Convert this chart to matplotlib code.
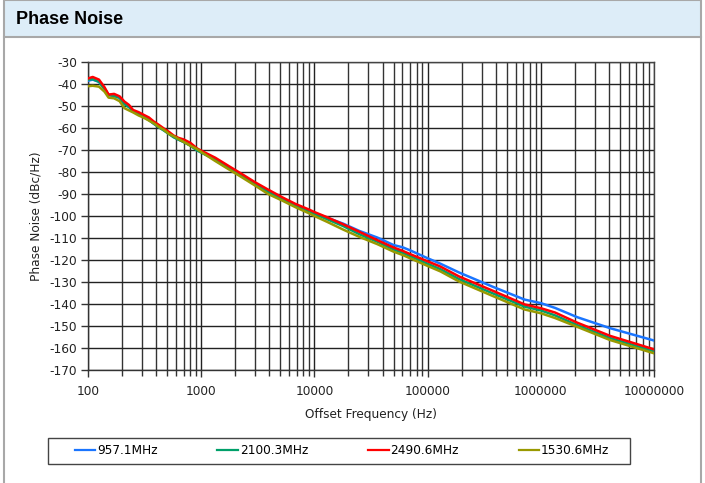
import matplotlib
matplotlib.use("Agg")
import matplotlib.pyplot as plt
from matplotlib.patches import Rectangle
from matplotlib.lines import Line2D
from matplotlib.ticker import LogLocator, FixedLocator, NullFormatter, FixedFormatter

# ---------------- data ----------------
freq_hz = [100, 110, 125, 140, 152, 170, 190, 210, 230, 250, 280, 310, 345, 380, 420,
           470, 520, 570, 630, 700, 800, 920, 1000, 1330, 1740, 2300, 3000, 3900,
           5200, 6800, 8900, 10000, 13000, 18000, 25000, 36000, 50000, 60000, 70000,
           100000, 130000, 190000, 370000, 720000, 1000000, 1340000, 2100000,
           4100000, 10000000]

pn_957_1 = [-38.5, -38.0, -39.0, -42.0, -45.0, -45.5, -46.3, -49.0, -50.3, -52.2, -53.6, -55.0,
            -56.3, -58.0, -59.5, -61.0, -62.6, -64.0, -65.2, -66.3, -67.8, -70.0, -71.0,
            -74.2, -78.0, -81.7, -85.3, -88.8, -92.2, -95.2, -97.8, -98.8, -100.8,
            -103.5, -106.8, -109.8, -113.2, -114.2, -115.6, -119.2, -121.7, -125.7,
            -132.0, -138.0, -139.6, -141.8, -146.0, -151.0, -156.6]

pn_2100_3 = [-38.0, -37.8, -39.0, -42.3, -45.0, -45.4, -46.2, -49.2, -50.5, -52.4, -53.8, -55.0,
             -56.4, -58.0, -59.6, -61.2, -62.8, -64.2, -65.3, -66.4, -68.0, -70.2, -71.2,
             -74.3, -78.0, -81.8, -85.5, -89.0, -92.3, -95.3, -97.9, -99.0, -101.5,
             -104.6, -108.3, -111.7, -115.2, -116.7, -118.2, -121.7, -124.2, -128.7,
             -135.0, -141.2, -142.9, -145.2, -149.6, -155.5, -161.5]

pn_2490_6 = [-37.5, -36.8, -38.0, -41.5, -44.8, -44.5, -45.6, -48.0, -49.5, -51.8, -52.8, -54.0,
             -55.2, -57.0, -58.5, -60.3, -61.8, -63.4, -64.5, -65.2, -66.7, -69.3, -70.3,
             -73.5, -77.2, -81.0, -84.7, -88.0, -91.5, -94.5, -97.0, -98.2, -100.6,
             -103.8, -107.2, -111.0, -114.3, -115.8, -117.3, -120.6, -123.0, -127.5,
             -133.8, -140.2, -141.9, -143.9, -148.5, -154.5, -160.6]

pn_1530_6 = [-41.0, -40.8, -41.2, -43.5, -46.2, -46.5, -47.8, -51.0, -52.0, -52.9, -54.3, -55.3,
             -56.6, -57.8, -59.4, -60.9, -62.7, -63.7, -65.0, -66.3, -68.0, -69.6, -70.9,
             -75.0, -78.7, -82.5, -86.2, -90.0, -93.0, -96.0, -98.7, -100.0, -102.7,
             -106.2, -109.5, -112.8, -116.2, -117.7, -119.2, -122.7, -125.2, -129.8,
             -136.2, -142.5, -144.2, -146.4, -150.4, -156.4, -162.4]

series_labels = ["957.1MHz", "2100.3MHz", "2490.6MHz", "1530.6MHz"]
series_colors = ["#1A75FF", "#00A06A", "#FF0000", "#999900"]

x_ticks = [100, 1000, 10000, 100000, 1000000, 10000000]
x_tick_labels = ["100", "1000", "10000", "100000", "1000000", "10000000"]
y_ticks = list(range(-170, -29, 10))

FS = 8.7
TXT = "#222222"

# ---------------- figure ----------------
W, H = 705, 483
fig = plt.figure(figsize=(W / 100, H / 100), dpi=100)
fig.patch.set_facecolor("white")

# title band
band_top = 1.0
band_bot = (H - 36.5) / H
fig.patches.append(Rectangle((4 / W, band_bot), (701 - 4) / W, band_top - band_bot,
                             transform=fig.transFigure, facecolor="#DDEDF8",
                             edgecolor="#A8A8A8", linewidth=1.5, zorder=0))
# outer side borders
fig.lines.append(Line2D([4 / W, 4 / W], [0, band_bot], transform=fig.transFigure,
                        color="#A8A8A8", linewidth=1.5))
fig.lines.append(Line2D([701 / W, 701 / W], [0, band_bot], transform=fig.transFigure,
                        color="#A8A8A8", linewidth=1.5))
fig.text(16 / W, (H - 19) / H, "Phase Noise", fontsize=13, fontweight="bold",
         family="Liberation Sans", va="center", ha="left", color="black")

ax = fig.add_axes([88 / W, (H - 370) / H, (654 - 88) / W, (370 - 62) / H])
series = [pn_957_1, pn_2100_3, pn_2490_6, pn_1530_6]
handles = []
for vals, lab, col in zip(series, series_labels, series_colors):
    h, = ax.plot(freq_hz, vals, color=col, linewidth=1.8, label=lab, zorder=3)
    handles.append(h)

ax.set_xscale("log")
ax.set_xlim(100, 10000000)
ax.set_ylim(-170, -30)
ax.xaxis.set_major_locator(FixedLocator(x_ticks))
ax.xaxis.set_major_formatter(FixedFormatter(x_tick_labels))
ax.xaxis.set_minor_locator(LogLocator(base=10, subs=range(2, 10), numticks=20))
ax.xaxis.set_minor_formatter(NullFormatter())
ax.set_yticks(y_ticks)
ax.set_yticklabels([str(v) for v in y_ticks])

ax.grid(True, which="major", axis="both", color="#222222", linewidth=1.0)
ax.grid(True, which="minor", axis="x", color="#333333", linewidth=1.0)
for s in ["top", "right"]:
    ax.spines[s].set_color("#444444")
    ax.spines[s].set_linewidth(1.0)
for s in ["left", "bottom"]:
    ax.spines[s].set_color("#333333")
    ax.spines[s].set_linewidth(1.0)

ax.tick_params(axis="both", which="major", direction="out", length=5, width=1,
               color="#333333", labelsize=FS, labelcolor=TXT)
ax.tick_params(axis="x", which="major", pad=6)
ax.tick_params(axis="x", which="minor", direction="out", length=4, width=1, color="#333333")
ax.tick_params(axis="y", which="major", pad=3)
for lbl in ax.get_xticklabels() + ax.get_yticklabels():
    lbl.set_family("DejaVu Sans")

ax.set_xlabel("Offset Frequency (Hz)", fontsize=FS, family="DejaVu Sans",
              color=TXT, labelpad=7)
ax.set_ylabel("Phase Noise (dBc/Hz)", fontsize=FS, family="DejaVu Sans",
              color=TXT, labelpad=5)

# legend frame (drawn separately) + frameless legend
fig.patches.append(Rectangle((48 / W, (H - 464) / H), (630 - 48) / W, 26 / H,
                             transform=fig.transFigure, facecolor="white",
                             edgecolor="#444444", linewidth=1.0, zorder=1))
leg = fig.legend(handles=handles, labels=series_labels, loc="center",
                 bbox_to_anchor=(342 / W, (H - 451) / H), ncol=4, frameon=False,
                 handlelength=1.7, handletextpad=0.15, columnspacing=4.95,
                 borderpad=0.3, prop={"family": "DejaVu Sans", "size": FS})
for h in leg.legend_handles:
    h.set_linewidth(1.6)

fig.savefig("out.png", dpi=100, facecolor="white")
